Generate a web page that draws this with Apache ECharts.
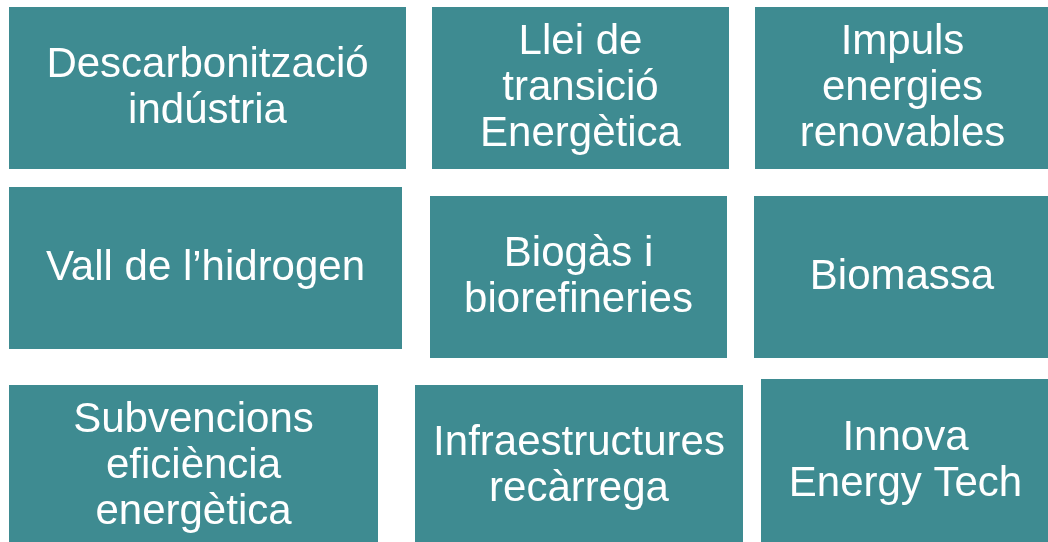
<!DOCTYPE html>
<html>
<head>
<meta charset="utf-8">
<script src="https://cdn.jsdelivr.net/npm/echarts@6/dist/echarts.min.js"></script>
<style>
  html, body { margin: 0; padding: 0; background: #fff; }
  #chart { width: 1048px; height: 542px; }
</style>
</head>
<body>
<div id="chart"></div>
<script>
// tile labels (line breaks as in the slide)
const labels = [
    'Descarbonització\nindústria',
    'Llei de\ntransició\nEnergètica',
    'Impuls\nenergies\nrenovables',
    'Vall de l\u2019hidrogen',
    'Biogàs i\nbiorefineries',
    'Biomassa',
    'Subvencions\neficiència\nenergètica',
    'Infraestructures\nrecàrrega',
    'Innova\nEnergy Tech'
];
// tile extents in slide units
const tileLeft   = [9, 432, 755, 9, 430, 754, 9, 415, 761];
const tileRight  = [406, 729, 1050, 402, 727, 1050, 378, 743, 1050];
const tileTop    = [7, 7, 7, 187, 196, 196, 385, 385, 379];
const tileBottom = [169, 169, 169, 349, 358, 358, 547, 547, 543];

const tileColor = '#3e8b91';

let chart = echarts.init(document.getElementById('chart'));

let data = labels.map((l, i) => [tileLeft[i], tileTop[i], tileRight[i], tileBottom[i], l]);

chart.setOption({
    animation: false,
    grid: { left: 0, right: 0, top: 0, bottom: 0 },
    xAxis: { type: 'value', min: 0, max: 1048, show: false },
    yAxis: { type: 'value', min: 0, max: 542, inverse: true, show: false },
    series: [{
        type: 'custom',
        clip: false,
        data: data,
        renderItem: function(params, api) {
            let p0 = api.coord([api.value(0), api.value(1)]);
            let p1 = api.coord([api.value(2), api.value(3)]);
            let txt = data[params.dataIndex][4];
            return {
                type: 'group',
                children: [
                    {
                        type: 'rect',
                        shape: { x: p0[0], y: p0[1], width: p1[0] - p0[0], height: p1[1] - p0[1] },
                        style: { fill: tileColor }
                    },
                    {
                        type: 'text',
                        x: (p0[0] + p1[0]) / 2,
                        y: (p0[1] + p1[1]) / 2,
                        style: {
                            text: txt,
                            fill: '#ffffff',
                            font: '42px "Liberation Sans", Arial, sans-serif',
                            lineHeight: 46,
                            align: 'center',
                            verticalAlign: 'middle'
                        }
                    }
                ]
            };
        }
    }]
});
</script>
</body>
</html>
